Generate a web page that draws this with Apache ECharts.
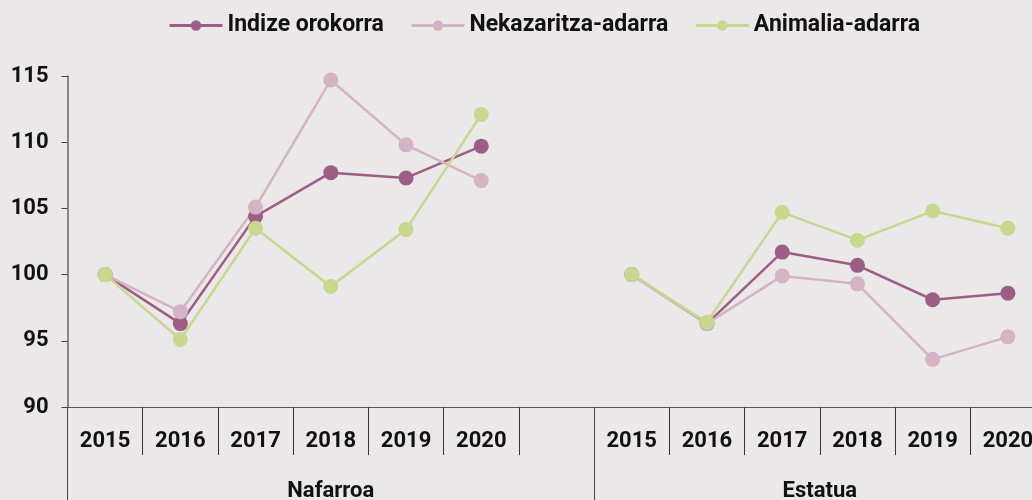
<!DOCTYPE html>
<html>
<head>
<meta charset="utf-8">
<script src="https://cdn.jsdelivr.net/npm/echarts@6/dist/echarts.min.js"></script>
<style>
  html, body { margin: 0; padding: 0; background: #ebe8e9; }
  #graph { width: 1032px; height: 500px; }
</style>
</head>
<body>
<div id="graph"></div>
<script>
// urteak: Nafarroa (6) + hutsunea + Estatua (6)
const years = ['2015', '2016', '2017', '2018', '2019', '2020', '',
               '2015', '2016', '2017', '2018', '2019', '2020'];
const groups = ['Nafarroa', 'Estatua'];
const seriesNames = ['Indize orokorra', 'Nekazaritza-adarra', 'Animalia-adarra'];

const indize = [100, 96.3, 104.4, 107.7, 107.3, 109.7, null,
                100, 96.3, 101.7, 100.7, 98.1, 98.6];
const nekazaritza = [100, 97.2, 105.1, 114.7, 109.8, 107.1, null,
                     100, 96.3, 99.9, 99.3, 93.6, 95.3];
const animalia = [100, 95.1, 103.5, 99.1, 103.4, 112.1, null,
                  100, 96.4, 104.7, 102.6, 104.8, 103.5];

const colors = ['#9c5e84', '#d4b3c6', '#c8d88c'];
const font = 'Roboto';

var mychart = echarts.init(document.getElementById('graph'));

function line(name, data, color) {
  return {
    name: name,
    type: 'line',
    data: data,
    symbol: 'circle',
    symbolSize: 15,
    lineStyle: { width: 2.5, color: color },
    itemStyle: { color: color },
    emphasis: { disabled: true }
  };
}

mychart.setOption({
  backgroundColor: '#ebe8e9',
  animation: false,
  legend: {
    data: seriesNames,
    top: 9,
    left: 163,
    itemWidth: 53,
    itemHeight: 13,
    itemGap: 26,
    lineStyle: { width: 3 },
    textStyle: { fontFamily: font, fontWeight: 'bold', fontSize: 23, color: '#111' }
  },
  // grid goes a bit past the right edge, as in the original
  grid: { left: 67.5, width: 978, top: 76, height: 331, outerBoundsMode: 'none' },
  xAxis: [
    {
      type: 'category',
      data: years,
      boundaryGap: true,
      axisLine: { lineStyle: { color: '#555', width: 1 } },
      axisTick: { show: true, interval: 0, length: 48, lineStyle: { color: '#333' } },
      axisLabel: { interval: 0, margin: 23, fontFamily: font, fontWeight: 'bold', fontSize: 22, color: '#111' }
    },
    {
      // talde-etiketak (Nafarroa / Estatua)
      type: 'value',
      position: 'bottom',
      min: 0,
      max: 13,
      splitLine: { show: false },
      axisLine: { show: false },
      axisTick: { show: true, customValues: [0, 7], length: 95, lineStyle: { color: '#444' } },
      axisLabel: {
        customValues: [3.5, 10],
        margin: 73,
        formatter: function (v) { return v < 7 ? groups[0] : groups[1]; },
        fontFamily: font, fontWeight: 'bold', fontSize: 22, color: '#111'
      }
    }
  ],
  yAxis: {
    type: 'value',
    min: 90,
    max: 115,
    interval: 5,
    splitLine: { show: false },
    axisLine: { show: true, lineStyle: { color: '#666', width: 1.5 } },
    axisTick: { show: true, length: 6, lineStyle: { color: '#444' } },
    axisLabel: { margin: 19, fontFamily: font, fontWeight: 'bold', fontSize: 22, color: '#111' }
  },
  series: [
    line(seriesNames[0], indize, colors[0]),
    line(seriesNames[1], nekazaritza, colors[1]),
    line(seriesNames[2], animalia, colors[2])
  ]
});
</script>
</body>
</html>
